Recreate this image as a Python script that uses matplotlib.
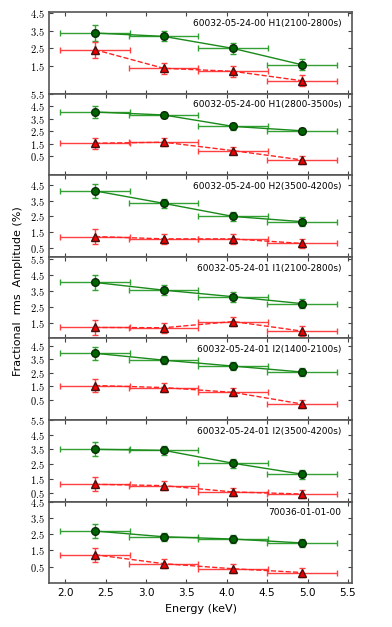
import matplotlib
matplotlib.use("Agg")
import matplotlib.pyplot as plt

plt.rcParams['mathtext.fontset'] = 'cm'

# bin centres and half widths (keV)
energy = [2.37, 3.22, 4.08, 4.93]
energy_err = [0.43, 0.43, 0.43, 0.43]

labels = [
    "60032-05-24-00 H1(2100-2800s)",
    "60032-05-24-00 H1(2800-3500s)",
    "60032-05-24-00 H2(3500-4200s)",
    "60032-05-24-01 I1(2100-2800s)",
    "60032-05-24-01 I2(1400-2100s)",
    "60032-05-24-01 I2(3500-4200s)",
    "70036-01-01-00",
]

green_rms = [
    [3.36, 3.17, 2.49, 1.57],
    [4.03, 3.79, 2.88, 2.53],
    [4.12, 3.33, 2.50, 2.17],
    [4.04, 3.56, 3.15, 2.72],
    [3.94, 3.43, 2.99, 2.55],
    [3.50, 3.43, 2.55, 1.81],
    [2.69, 2.34, 2.20, 1.96],
]
green_err = [
    [0.45, 0.28, 0.30, 0.30],
    [0.47, 0.25, 0.25, 0.25],
    [0.44, 0.30, 0.30, 0.30],
    [0.44, 0.30, 0.30, 0.30],
    [0.48, 0.28, 0.30, 0.30],
    [0.47, 0.30, 0.30, 0.30],
    [0.42, 0.25, 0.27, 0.25],
]
red_rms = [
    [2.42, 1.37, 1.20, 0.67],
    [1.54, 1.62, 0.95, 0.21],
    [1.23, 1.08, 1.08, 0.79],
    [1.23, 1.21, 1.60, 1.00],
    [1.55, 1.40, 1.04, 0.18],
    [1.12, 1.03, 0.60, 0.46],
    [1.24, 0.69, 0.38, 0.15],
]
red_err = [
    [0.45, 0.30, 0.30, 0.30],
    [0.45, 0.30, 0.25, 0.30],
    [0.45, 0.30, 0.30, 0.30],
    [0.45, 0.30, 0.30, 0.30],
    [0.47, 0.30, 0.30, 0.30],
    [0.48, 0.30, 0.30, 0.30],
    [0.43, 0.28, 0.28, 0.30],
]

ylims = [(-0.05, 4.55), (-1.0, 5.5), (-0.05, 5.12), (0.55, 5.65),
         (-1.0, 5.05), (-0.05, 5.5), (-0.5, 4.5)]
yticks = [
    [1.5, 2.5, 3.5, 4.5],
    [0.5, 1.5, 2.5, 3.5, 4.5, 5.5],
    [0.5, 1.5, 2.5, 3.5, 4.5],
    [1.5, 2.5, 3.5, 4.5, 5.5],
    [0.5, 1.5, 2.5, 3.5, 4.5],
    [0.5, 1.5, 2.5, 3.5, 4.5, 5.5],
    [0.5, 1.5, 2.5, 3.5, 4.5],
]
xticks = [2.0, 2.5, 3.0, 3.5, 4.0, 4.5, 5.0, 5.5]

fig, axes = plt.subplots(7, 1, sharex=True, figsize=(3.92, 6.27), dpi=100)
fig.subplots_adjust(left=0.125, right=0.898, top=0.981, bottom=0.070, hspace=0)

for i, ax in enumerate(axes):
    ax.errorbar(energy, green_rms[i], xerr=energy_err, yerr=green_err[i],
                fmt='-o', color='#1a8a1a', ecolor='#33a033', mfc='#006400', mec='#0a2a0a',
                ms=5.5, lw=1, elinewidth=1, capsize=2)
    ax.errorbar(energy, red_rms[i], xerr=energy_err, yerr=red_err[i],
                fmt='--^', color='#ff2222', ecolor='#ff4040', mfc='#ee0000', mec='#441111',
                ms=5.5, lw=1, elinewidth=1, capsize=2)
    ax.set_ylim(*ylims[i])
    ax.set_xlim(1.8, 5.55)
    ax.set_yticks(yticks[i])
    ax.set_yticklabels([f"${t}$" for t in yticks[i]], fontsize=7.5)
    ax.set_xticks(xticks)
    ax.tick_params(direction='in', top=True, right=True, length=3, width=0.8, colors='#444444')
    ax.tick_params(axis='x', labelsize=7.5, labelcolor='black')
    ax.tick_params(axis='y', labelcolor='black', pad=3)
    for s in ax.spines.values():
        s.set_color('#555555')
        s.set_linewidth(1.2)
    ax.text(0.965, 0.86, labels[i], transform=ax.transAxes, ha='right', va='center', fontsize=6.5)

axes[-1].set_xticklabels([f"{t:.1f}" for t in xticks])
axes[-1].set_xlabel("Energy (keV)", fontsize=8)
fig.text(0.045, 1 - 291 / 627, "Fractional  rms  Amplitude (%)", rotation=90,
         ha='center', va='center', fontsize=8)

fig.savefig("out.png", dpi=100)
